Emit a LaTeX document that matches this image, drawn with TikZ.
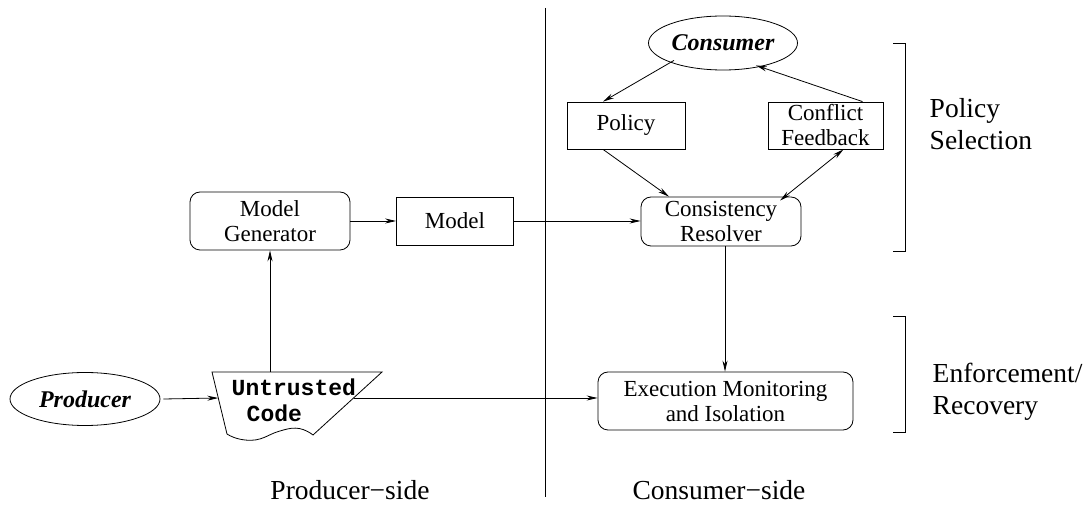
\documentclass[tikz,border=0pt]{standalone}
\usepackage{fontspec}
\setmainfont{Liberation Serif}
\newfontfamily\codefont{Liberation Mono}
\usetikzlibrary{arrows.meta,shapes.geometric}
\begin{document}
\begin{tikzpicture}[x=1pt,y=-1pt,
  line width=0.8pt,
  arr/.style={-{Stealth[length=11pt,width=5pt]}},
  boxtxt/.style={font=\fontsize{23}{25}\selectfont, align=center},
  rbox/.style={draw, rounded corners=10pt, boxtxt, inner sep=0pt},
  sbox/.style={draw, boxtxt, inner sep=0pt},
  ell/.style={draw, ellipse, inner sep=0pt, font=\fontsize{24}{26}\selectfont\bfseries\itshape},
  side/.style={font=\fontsize{27.5}{32}\selectfont, align=left, anchor=west},
  bottom/.style={font=\fontsize{27.5}{32}\selectfont}
]
\useasboundingbox (0,0) rectangle (1085,510);

% divider
\draw[line width=0.6pt] (545,8) -- (545,497);

% nodes
\node[ell, minimum width=150pt, minimum height=53pt] (prod) at (85,399) {Producer};
\node[ell, minimum width=149pt, minimum height=54pt] (cons) at (723,43) {Consumer};
\node[rbox, minimum width=160pt, minimum height=58pt] (mg) at (270,221) {Model\\Generator};
\node[sbox, minimum width=117pt, minimum height=48pt] (model) at (455,221) {Model};
\node[rbox, minimum width=160pt, minimum height=49pt] (cr) at (721,221.5) {Consistency\\Resolver};
\node[sbox, minimum width=118pt, minimum height=47pt] (pol) at (626,125.5) {Policy};
\node[sbox, minimum width=115pt, minimum height=47pt] (cf) at (825.5,125.5) {Conflict\\Feedback};
\node[rbox, minimum width=255pt, minimum height=58pt] (em) at (725.5,401) {Execution Monitoring\\and Isolation};

% untrusted code shape
\draw (212,372) -- (382,372) -- (313,435)
  .. controls (300,425) and (290,428) .. (280,431)
  .. controls (268,434) and (262,442) .. (245,440)
  .. controls (236,439) and (230,436) .. (227,434) -- cycle;
\node[font=\codefont\bfseries\fontsize{23}{26}\selectfont, anchor=base west] (ut1) at (228,396) {Untrusted};
\node[font=\codefont\bfseries\fontsize{23}{26}\selectfont, anchor=base west] (ut2) at (243,422) {Code};
\coordinate (uctop) at (270,372);
\coordinate (ucleft) at (218.3,398);
\coordinate (ucright) at (353.5,398);

% connectors
\draw[arr] (prod.east) ++(3,0) coordinate (pe) -- (ucleft);
\draw[arr] (uctop) -- (mg.south);
\draw[arr] (mg.east) -- (model.west);
\draw[arr] (model.east) -- (model.east -| cr.west);
\draw[arr] (ucright) -- (ucright -| em.west);
\draw[arr] (cr.south) ++(4,0) coordinate (crs) -- (crs |- em.north);
\draw[arr] (cons.south west) ++(4,-2) coordinate (cs) -- ([xshift=-23pt]pol.north);
\draw[arr] ([xshift=-23pt]pol.south) -- ([xshift=-52pt]cr.north);
\draw[{Stealth[length=11pt,width=5pt]}-{Stealth[length=11pt,width=5pt]}] ([xshift=59pt,yshift=-4pt]cr.north) -- ([xshift=18pt]cf.south);
\draw[arr] ([xshift=37pt]cf.north) -- ([xshift=-20pt,yshift=-3pt]cons.south east);

% brackets
\draw[line width=0.6pt] (893,43) -- (905,43) -- (905,251) -- (893,251);
\draw[line width=0.6pt] (893,316) -- (905,316) -- (905,432) -- (893,432);
\node[side] (ps) at (926,124) {Policy\\Selection};
\node[side] (er) at (929,392) {Enforcement/\\Recovery};

% bottom labels
\node[bottom] (pside) at (350,490) {Producer−side};
\node[bottom] (cside) at (719,490) {Consumer−side};
\end{tikzpicture}
\end{document}
